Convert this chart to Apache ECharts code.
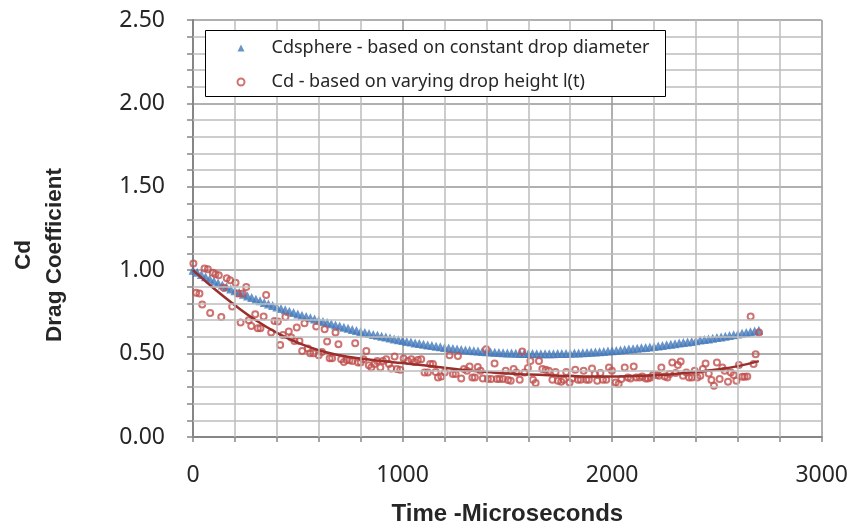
<!DOCTYPE html>
<html>
<head>
<meta charset="utf-8">
<script src="https://cdn.jsdelivr.net/npm/echarts@6/dist/echarts.min.js"></script>
<style>html,body{margin:0;padding:0;background:#fff}#c{width:851px;height:531px}</style>
</head>
<body>
<div id="c"></div>
<script>
// Cdsphere - based on constant drop diameter
const sphereTime = [0,20,40,60,80,100,120,140,160,180,200,220,240,260,280,300,320,340,360,380,400,420,440,460,480,500,520,540,560,580,600,620,640,660,680,700,720,740,760,780,800,820,840,860,880,900,920,940,960,980,1000,1020,1040,1060,1080,1100,1120,1140,1160,1180,1200,1220,1240,1260,1280,1300,1320,1340,1360,1380,1400,1420,1440,1460,1480,1500,1520,1540,1560,1580,1600,1620,1640,1660,1680,1700,1720,1740,1760,1780,1800,1820,1840,1860,1880,1900,1920,1940,1960,1980,2000,2020,2040,2060,2080,2100,2120,2140,2160,2180,2200,2220,2240,2260,2280,2300,2320,2340,2360,2380,2400,2420,2440,2460,2480,2500,2520,2540,2560,2580,2600,2620,2640,2660,2680,2700];
const sphereCd = [1.000,0.987,0.974,0.961,0.948,0.935,0.923,0.911,0.899,0.888,0.877,0.866,0.856,0.846,0.836,0.826,0.817,0.807,0.798,0.789,0.780,0.771,0.763,0.754,0.746,0.738,0.730,0.722,0.715,0.707,0.700,0.693,0.686,0.679,0.672,0.665,0.658,0.652,0.645,0.639,0.633,0.627,0.621,0.615,0.610,0.604,0.599,0.593,0.588,0.583,0.578,0.573,0.569,0.564,0.560,0.556,0.552,0.548,0.544,0.541,0.537,0.534,0.531,0.528,0.525,0.522,0.520,0.517,0.515,0.513,0.511,0.509,0.508,0.506,0.505,0.504,0.503,0.502,0.501,0.500,0.500,0.500,0.499,0.499,0.499,0.499,0.499,0.500,0.500,0.501,0.502,0.503,0.504,0.505,0.507,0.508,0.510,0.511,0.513,0.515,0.517,0.519,0.522,0.524,0.527,0.529,0.532,0.535,0.537,0.540,0.543,0.546,0.549,0.553,0.556,0.559,0.563,0.566,0.570,0.573,0.577,0.581,0.585,0.588,0.592,0.596,0.600,0.604,0.608,0.613,0.617,0.622,0.626,0.631,0.635,0.640];

// Cd - based on varying drop height l(t)
const dropTime = [2,15,31,44,55,71,82,95,107,123,135,147,161,177,187,203,214,227,238,254,266,278,297,309,322,337,349,373,389,405,416,429,441,457,469,484,495,508,521,532,548,559,575,588,600,615,628,640,652,664,680,694,707,720,734,747,760,774,787,800,814,827,839,851,866,879,894,906,922,935,946,962,973,989,1005,1025,1042,1057,1073,1089,1105,1121,1132,1145,1158,1169,1185,1201,1224,1240,1253,1264,1280,1293,1307,1320,1333,1345,1359,1372,1383,1399,1407,1423,1439,1450,1463,1479,1492,1503,1516,1530,1543,1559,1571,1582,1598,1610,1622,1635,1651,1667,1683,1698,1715,1730,1741,1757,1769,1781,1797,1810,1824,1837,1850,1864,1877,1889,1904,1917,1929,1944,1956,1972,1985,1999,2017,2031,2044,2060,2075,2088,2103,2115,2131,2144,2160,2171,2184,2195,2211,2223,2235,2251,2264,2274,2287,2303,2314,2327,2338,2354,2367,2381,2394,2407,2421,2433,2446,2461,2474,2486,2500,2513,2526,2537,2553,2566,2580,2593,2605,2621,2632,2645,2661,2675,2685,2701];
const dropCd = [1.04,0.865,0.86,0.795,1.01,1.005,0.743,0.985,0.975,0.969,0.72,0.895,0.951,0.939,0.783,0.925,0.86,0.686,0.86,0.899,0.70,0.666,0.736,0.652,0.652,0.722,0.851,0.626,0.696,0.692,0.552,0.612,0.72,0.632,0.596,0.576,0.656,0.576,0.516,0.682,0.53,0.502,0.502,0.662,0.49,0.51,0.646,0.572,0.472,0.472,0.626,0.556,0.466,0.45,0.462,0.46,0.456,0.562,0.447,0.447,0.466,0.516,0.43,0.417,0.437,0.456,0.417,0.456,0.466,0.437,0.411,0.483,0.407,0.403,0.47,0.456,0.466,0.45,0.462,0.466,0.387,0.387,0.437,0.437,0.39,0.357,0.363,0.387,0.49,0.377,0.377,0.486,0.351,0.407,0.397,0.423,0.357,0.357,0.42,0.397,0.351,0.526,0.347,0.347,0.441,0.347,0.347,0.347,0.397,0.341,0.337,0.407,0.387,0.343,0.513,0.387,0.413,0.456,0.343,0.323,0.456,0.407,0.403,0.397,0.343,0.39,0.337,0.331,0.343,0.39,0.327,0.351,0.403,0.343,0.343,0.397,0.343,0.343,0.411,0.377,0.337,0.383,0.343,0.343,0.417,0.397,0.327,0.317,0.347,0.417,0.357,0.351,0.423,0.357,0.357,0.363,0.351,0.351,0.357,0.371,0.371,0.367,0.417,0.363,0.357,0.377,0.447,0.383,0.431,0.453,0.367,0.387,0.357,0.357,0.397,0.357,0.367,0.407,0.441,0.381,0.341,0.307,0.447,0.347,0.417,0.397,0.331,0.387,0.371,0.337,0.431,0.361,0.361,0.363,0.722,0.437,0.496,0.626];

// Trendline through Cd (varying drop height)
const trendTime = [0,100,200,300,400,500,600,700,800,900,1000,1100,1200,1300,1400,1500,1600,1700,1800,1900,2000,2100,2200,2300,2400,2500,2600,2700];
const trendCd = [1.0,0.89,0.79,0.70,0.625,0.565,0.52,0.49,0.47,0.455,0.443,0.43,0.415,0.40,0.39,0.38,0.375,0.37,0.365,0.362,0.362,0.365,0.37,0.378,0.39,0.405,0.425,0.455];

// Minor gridline positions (between the labelled major ticks)
const minorXGrid = [200,400,600,800,1200,1400,1600,1800,2200,2400,2600,2800];
const minorYGrid = [0.1,0.2,0.3,0.4,0.6,0.7,0.8,0.9,1.1,1.2,1.3,1.4,1.6,1.7,1.8,1.9,2.1,2.2,2.3,2.4];

const legendNames = ['Cdsphere - based on constant drop diameter','Cd - based on varying drop height l(t)'];
const xTitle = 'Time -Microseconds';
const yTitle1 = 'Cd';
const yTitle2 = 'Drag Coefficient';

const zip = (a,b) => a.map((v,i)=>[v,b[i]]);
const FONT = '"Noto Sans", "Open Sans", sans-serif';
const BOLD = '"Liberation Sans", Arial, sans-serif';
const minor = '#bcbcbc', major = '#969696', axisCol = '#868686';

const chart = echarts.init(document.getElementById('c'), null, {renderer:'canvas'});
chart.setOption({
  animation:false,
  backgroundColor:'#fff',
  grid:{left:193, right:29, top:20, bottom:93, containLabel:false},
  xAxis:{
    type:'value', min:0, max:3000, interval:1000,
    name:xTitle, nameLocation:'middle', nameGap:65,
    nameTextStyle:{fontFamily:BOLD, fontWeight:'bold', fontSize:24, color:'#262626'},
    axisLine:{show:true, onZero:false, lineStyle:{color:axisCol, width:2}},
    axisTick:{show:true, length:5, lineStyle:{color:axisCol, width:1.5}},
    minorTick:{show:true, splitNumber:5, length:5, lineStyle:{color:axisCol, width:1.5}},
    axisLabel:{margin:27, fontFamily:FONT, fontSize:23, color:'#262626', formatter:v=>String(v)},
    splitLine:{show:true, lineStyle:{color:major, width:1.5}}
  },
  yAxis:{
    type:'value', min:0, max:2.5, interval:0.5,
    axisLine:{show:true, onZero:false, lineStyle:{color:axisCol, width:2}},
    axisTick:{show:true, length:6, lineStyle:{color:axisCol, width:1.5}},
    minorTick:{show:true, splitNumber:5, length:6, lineStyle:{color:axisCol, width:1.5}},
    axisLabel:{margin:28, fontFamily:FONT, fontSize:23, color:'#262626', formatter:v=>v.toFixed(2)},
    splitLine:{show:true, lineStyle:{color:major, width:1.5}}
  },
  legend:{
    data:legendNames, orient:'vertical', left:236.5, top:37, padding:0,
    itemWidth:7, itemHeight:7, itemGap:12, z:20,
    textStyle:{fontFamily:FONT, fontSize:18, color:'#262626', lineHeight:22, padding:[0,0,0,22]}
  },
  graphic:[
    {type:'rect', z:15, shape:{x:205.5, y:30.5, width:460, height:66}, style:{fill:'#fff', stroke:'#000', lineWidth:1}},
    {type:'text', z:15, x:24, y:255, rotation:Math.PI/2, style:{text:yTitle1, fontFamily:BOLD, fontWeight:'bold', fontSize:22.5, fill:'#262626', textAlign:'center', textVerticalAlign:'middle'}},
    {type:'text', z:15, x:55, y:255, rotation:Math.PI/2, style:{text:yTitle2, fontFamily:BOLD, fontWeight:'bold', fontSize:22.5, fill:'#262626', textAlign:'center', textVerticalAlign:'middle'}}
  ],
  series:[
    {name:'minorGrid', type:'line', data:[], z:1, silent:true,
     markLine:{silent:true, symbol:['none','none'], animation:false, label:{show:false},
       lineStyle:{color:minor, width:1.5, type:'solid'},
       data:[...minorXGrid.map(v=>({xAxis:v})), ...minorYGrid.map(v=>({yAxis:v}))]}},
    {name:legendNames[0], type:'scatter', symbol:'triangle', symbolSize:9, z:2,
     itemStyle:{color:'#4479BA'}, data:zip(sphereTime, sphereCd)},
    {name:legendNames[1], type:'scatter', symbol:'circle', symbolSize:6, z:3,
     itemStyle:{color:'rgba(255,255,255,0)', borderColor:'#C0504D', borderWidth:2}, data:zip(dropTime, dropCd)},
    {name:'trend', type:'line', smooth:true, showSymbol:false, z:4,
     lineStyle:{color:'#9B2F2C', width:2.5}, data:zip(trendTime, trendCd)}
  ]
});
</script>
</body>
</html>
